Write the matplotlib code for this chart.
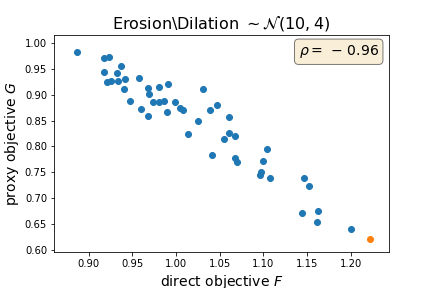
import numpy as np
import matplotlib
matplotlib.use("Agg")
import matplotlib.pyplot as plt

# direct objective F vs proxy objective G
F = [0.8863, 0.9183, 0.9229, 0.9377, 0.9183, 0.9331, 0.9217, 0.9263, 0.9343,
     0.9423, 0.9411, 0.9583, 0.9480, 0.9686, 0.9697, 0.9811, 0.9914, 0.9606,
     0.9743, 0.9811, 0.9869, 0.9994, 1.0051, 1.0086, 0.9686, 0.9903, 1.0314,
     1.0394, 1.0474, 1.0257, 1.0143, 1.0611, 1.0554, 1.0611, 1.0680, 1.0417,
     1.0680, 1.0703, 1.1046, 1.1000, 1.0977, 1.0966, 1.1080, 1.1469, 1.1526,
     1.1446, 1.1629, 1.1617, 1.2006]
G = [0.983, 0.970, 0.972, 0.956, 0.944, 0.941, 0.925, 0.927, 0.927,
     0.931, 0.910, 0.933, 0.888, 0.912, 0.902, 0.914, 0.921, 0.873,
     0.885, 0.886, 0.888, 0.886, 0.875, 0.871, 0.859, 0.867, 0.910,
     0.871, 0.879, 0.850, 0.823, 0.856, 0.815, 0.825, 0.821, 0.784,
     0.778, 0.770, 0.794, 0.772, 0.751, 0.745, 0.738, 0.738, 0.724,
     0.672, 0.676, 0.654, 0.641]

# highlighted point
best_F = [1.2223]
best_G = [0.621]

rho = -0.96

fig, ax = plt.subplots(figsize=(6, 4), dpi=72)
fig.subplots_adjust(left=0.125, right=0.9, top=0.88, bottom=0.125)

ax.scatter(F, G, color="tab:blue")
ax.scatter(best_F, best_G, color="tab:orange")

ax.set_xlim(0.8605, 1.2437)
ax.set_ylim(0.596, 1.016)

ax.set_title(r"Erosion\Dilation $\sim\mathcal{N}(10, 4)$", fontsize=16)
ax.set_xlabel(r"direct objective $F$", fontsize=14)
ax.set_ylabel(r"proxy objective $G$", fontsize=14)

# old mathtext spaced the minus sign like a binary operator
props = dict(boxstyle="round", facecolor="wheat", alpha=0.5)
ax.text(0.97, 0.96, r"$\rho =\,-\,%.2f$" % abs(rho), transform=ax.transAxes,
        fontsize=14, ha="right", va="top", bbox=props)

fig.savefig("out.png", dpi=72)
